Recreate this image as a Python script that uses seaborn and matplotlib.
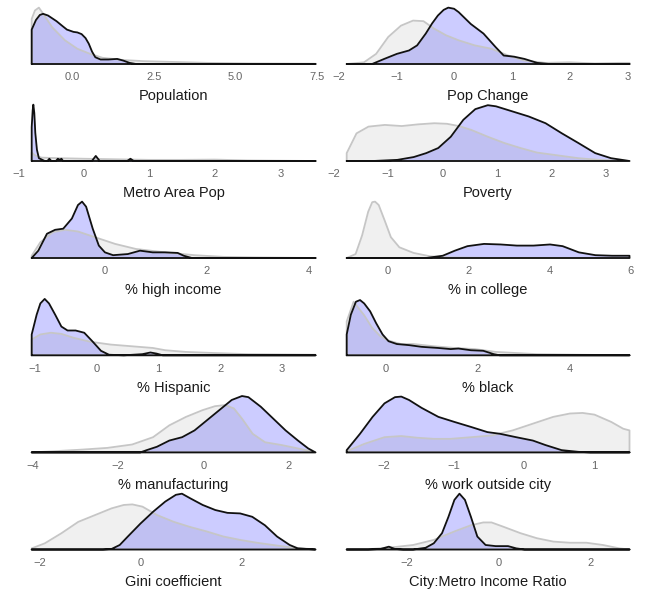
import matplotlib
matplotlib.use("Agg")
import matplotlib.pyplot as plt
import seaborn as sns

# density heights (share of panel height)
# grey = all cities, purple = selected cities

population_range = [-1.25, 7.45]
population_ticks = [0, 2.5, 5, 7.5]
population_labels = ["0.0", "2.5", "5.0", "7.5"]
population_grey_x = [-1.25, -1.15, -1.03, -0.85, -0.62, -0.40, -0.23, 0.15, 0.54, 0.92, 1.56, 2.2, 2.85, 4.13, 5.41, 7.45]
population_grey_y = [0.80, 0.95, 1.0, 0.85, 0.65, 0.52, 0.42, 0.27, 0.18, 0.11, 0.07, 0.05, 0.04, 0.02, 0.01, 0.005]
population_sel_x = [-1.25, -1.12, -1.0, -0.90, -0.75, -0.49, -0.30, -0.17, 0.03, 0.15, 0.28, 0.40, 0.50, 0.60, 0.70,
                    0.86, 1.10, 1.37, 1.56, 1.75, 1.95, 7.45]
population_sel_y = [0.61, 0.78, 0.87, 0.89, 0.86, 0.76, 0.67, 0.61, 0.57, 0.56, 0.53, 0.46, 0.36, 0.22, 0.12,
                    0.08, 0.08, 0.09, 0.06, 0.02, 0.0, 0.0]

popchange_range = [-1.86, 3.04]
popchange_ticks = [-2, -1, 0, 1, 2, 3]
popchange_grey_x = [-1.86, -1.56, -1.35, -1.14, -0.92, -0.71, -0.53, -0.35, -0.14, 0.08, 0.36, 0.65, 0.94, 1.22,
                    1.58, 2.0, 2.44, 2.86, 3.04]
popchange_grey_y = [0, 0.03, 0.18, 0.48, 0.68, 0.77, 0.76, 0.63, 0.51, 0.42, 0.33, 0.27, 0.15, 0.06,
                    0.02, 0.03, 0.01, 0.02, 0.02]
popchange_sel_x = [-1.86, -1.42, -1.21, -0.99, -0.78, -0.64, -0.49, -0.38, -0.28, -0.18, -0.10, 0.0, 0.08, 0.29,
                   0.51, 0.72, 0.86, 1.04, 1.22, 1.44, 1.65, 3.04]
popchange_sel_y = [0, 0.0, 0.09, 0.18, 0.24, 0.33, 0.54, 0.72, 0.86, 0.96, 1.0, 0.98, 0.92, 0.71,
                   0.54, 0.30, 0.15, 0.13, 0.09, 0.02, 0.0, 0.0]

metro_range = [-0.80, 3.54]
metro_ticks = [-1, 0, 1, 2, 3]
metro_grey_x = [-0.80, -0.75, -0.65, -0.40, 0.0, 0.5, 1.0, 1.5, 2.0, 2.5, 3.54]
metro_grey_y = [0.15, 0.10, 0.06, 0.05, 0.04, 0.03, 0.02, 0.02, 0.025, 0.01, 0.0]
metro_sel_x = [-0.80, -0.785, -0.775, -0.76, -0.745, -0.72, -0.69, -0.60, -0.56, -0.53, -0.50, -0.43, -0.40,
               -0.37, -0.345, -0.32, -0.28, 0.12, 0.18, 0.24, 0.66, 0.71, 0.76, 3.54]
metro_sel_y = [0.6, 0.9, 1.0, 0.85, 0.5, 0.2, 0.05, 0.0, 0.0, 0.04, 0.0, 0.0, 0.04,
               0.02, 0.04, 0.0, 0.0, 0.0, 0.09, 0.0, 0.0, 0.04, 0.0, 0.0]

poverty_range = [-1.76, 3.43]
poverty_ticks = [-2, -1, 0, 1, 2, 3]
poverty_grey_x = [-1.76, -1.58, -1.36, -1.06, -0.75, -0.45, -0.15, 0.08, 0.30, 0.53, 0.83, 1.13, 1.43, 1.73,
                  2.11, 2.49, 2.87, 3.43]
poverty_grey_y = [0.14, 0.49, 0.61, 0.64, 0.62, 0.65, 0.67, 0.66, 0.62, 0.55, 0.43, 0.32, 0.23, 0.15,
                  0.10, 0.05, 0.02, 0.0]
poverty_sel_x = [-1.76, -1.28, -0.83, -0.53, -0.30, -0.08, 0.15, 0.38, 0.60, 0.83, 0.98, 1.28, 1.58, 1.89,
                 2.19, 2.49, 2.80, 3.09, 3.43]
poverty_sel_y = [0, 0.0, 0.02, 0.07, 0.14, 0.23, 0.43, 0.73, 0.92, 0.99, 0.97, 0.88, 0.79, 0.67,
                 0.49, 0.32, 0.14, 0.05, 0.0]

highinc_range = [-1.44, 4.14]
highinc_ticks = [0, 2, 4]
highinc_grey_x = [-1.44, -1.27, -1.02, -0.78, -0.53, -0.20, 0.20, 0.61, 1.18, 1.76, 2.33, 2.98, 4.14]
highinc_grey_y = [0.04, 0.28, 0.46, 0.50, 0.47, 0.37, 0.25, 0.16, 0.10, 0.05, 0.02, 0.01, 0.0]
highinc_sel_x = [-1.44, -1.31, -1.14, -0.98, -0.82, -0.65, -0.53, -0.45, -0.37, -0.24, -0.12, 0.0, 0.16, 0.45,
                 0.69, 0.94, 1.18, 1.43, 1.55, 1.71, 4.14]
highinc_sel_y = [0, 0.13, 0.43, 0.50, 0.52, 0.70, 0.94, 1.0, 0.91, 0.52, 0.22, 0.10, 0.05, 0.07,
                 0.13, 0.10, 0.10, 0.09, 0.04, 0.0, 0.0]

college_range = [-1.01, 5.97]
college_ticks = [0, 2, 4, 6]
college_grey_x = [-1.01, -0.79, -0.63, -0.48, -0.38, -0.31, -0.22, -0.07, 0.08, 0.29, 0.64, 1.05, 1.46, 2.68, 5.97]
college_grey_y = [0, 0.07, 0.40, 0.82, 0.99, 1.0, 0.94, 0.66, 0.37, 0.19, 0.09, 0.03, 0.01, 0.0, 0.0]
college_sel_x = [-1.01, 0.95, 1.36, 1.66, 1.97, 2.38, 2.79, 3.19, 3.60, 4.01, 4.32, 4.72, 5.13, 5.54, 5.97]
college_sel_y = [0, 0, 0.04, 0.13, 0.21, 0.25, 0.24, 0.22, 0.22, 0.24, 0.21, 0.10, 0.05, 0.04, 0.04]

hispanic_range = [-1.05, 3.54]
hispanic_ticks = [-1, 0, 1, 2, 3]
hispanic_grey_x = [-1.05, -0.91, -0.74, -0.57, -0.37, -0.10, 0.23, 0.57, 0.91, 1.11, 1.44, 1.91, 2.45, 3.54]
hispanic_grey_y = [0.28, 0.37, 0.40, 0.38, 0.31, 0.24, 0.19, 0.16, 0.13, 0.09, 0.06, 0.04, 0.02, 0.01]
hispanic_sel_x = [-1.05, -0.97, -0.91, -0.84, -0.77, -0.67, -0.57, -0.47, -0.34, -0.20, -0.07, 0.07, 0.20, 0.44,
                  0.74, 0.87, 0.97, 1.07, 3.54]
hispanic_sel_y = [0.37, 0.72, 0.92, 1.0, 0.92, 0.72, 0.51, 0.44, 0.44, 0.40, 0.25, 0.08, 0.01, 0.0,
                  0.02, 0.05, 0.03, 0.0, 0.0]

black_range = [-0.85, 5.30]
black_ticks = [0, 2, 4]
black_grey_x = [-0.85, -0.70, -0.47, -0.30, -0.12, 0.06, 0.33, 0.60, 1.05, 1.50, 1.94, 2.39, 2.84, 3.29, 4.18, 5.30]
black_grey_y = [0.6, 0.95, 0.71, 0.49, 0.34, 0.26, 0.20, 0.20, 0.16, 0.13, 0.11, 0.06, 0.04, 0.02, 0.01, 0.0]
black_sel_x = [-0.85, -0.76, -0.65, -0.56, -0.47, -0.34, -0.21, -0.07, 0.06, 0.24, 0.51, 0.78, 1.14, 1.41,
               1.58, 1.85, 2.12, 2.35, 2.48, 5.30]
black_sel_y = [0.37, 0.72, 0.95, 0.98, 0.92, 0.78, 0.57, 0.37, 0.25, 0.20, 0.18, 0.15, 0.13, 0.11,
               0.12, 0.09, 0.08, 0.02, 0.0, 0.0]

manuf_range = [-4.02, 2.62]
manuf_ticks = [-4, -2, 0, 2]
manuf_grey_x = [-4.02, -3.51, -2.83, -2.25, -1.67, -1.18, -0.80, -0.41, -0.02, 0.27, 0.51, 0.71, 0.90, 1.15,
                1.44, 1.83, 2.21, 2.62]
manuf_grey_y = [0, 0.02, 0.05, 0.08, 0.14, 0.27, 0.48, 0.63, 0.75, 0.82, 0.84, 0.78, 0.60, 0.33,
                0.18, 0.13, 0.07, 0.0]
manuf_sel_x = [-4.02, -1.48, -1.33, -1.09, -0.80, -0.50, -0.21, 0.08, 0.37, 0.66, 0.90, 1.05, 1.34, 1.63,
               1.92, 2.21, 2.45, 2.62]
manuf_sel_y = [0, 0, 0.04, 0.10, 0.21, 0.27, 0.39, 0.57, 0.75, 0.93, 1.0, 0.98, 0.81, 0.60,
               0.39, 0.21, 0.07, 0.0]

outside_range = [-2.53, 1.51]
outside_ticks = [-2, -1, 0, 1]
outside_grey_x = [-2.53, -2.28, -1.99, -1.75, -1.52, -1.28, -1.05, -0.75, -0.46, -0.16, 0.13, 0.42, 0.66, 0.84,
                  1.01, 1.25, 1.42, 1.51]
outside_grey_y = [0.02, 0.15, 0.27, 0.29, 0.26, 0.24, 0.24, 0.27, 0.30, 0.39, 0.51, 0.63, 0.69, 0.70,
                  0.67, 0.54, 0.42, 0.39]
outside_sel_x = [-2.53, -2.34, -2.16, -1.99, -1.84, -1.75, -1.64, -1.46, -1.22, -0.99, -0.75, -0.52, -0.34, -0.11,
                 0.13, 0.31, 0.54, 0.78, 0.95, 1.51]
outside_sel_y = [0.04, 0.33, 0.63, 0.87, 0.98, 0.99, 0.93, 0.79, 0.63, 0.54, 0.45, 0.36, 0.33, 0.27,
                 0.21, 0.13, 0.04, 0.01, 0.0, 0.0]

gini_range = [-2.15, 3.46]
gini_ticks = [-2, 0, 2]
gini_grey_x = [-2.15, -1.89, -1.56, -1.23, -0.90, -0.57, -0.33, -0.16, 0.04, 0.33, 0.66, 0.98, 1.31, 1.64,
               1.97, 2.30, 2.62, 2.95, 3.46]
gini_grey_y = [0.02, 0.11, 0.29, 0.49, 0.61, 0.73, 0.79, 0.80, 0.76, 0.61, 0.49, 0.40, 0.32, 0.23,
               0.17, 0.12, 0.08, 0.04, 0.0]
gini_sel_x = [-2.15, -0.74, -0.57, -0.41, -0.25, 0.0, 0.25, 0.49, 0.70, 0.82, 0.98, 1.23, 1.48, 1.72,
              1.97, 2.21, 2.46, 2.70, 2.95, 3.11, 3.46]
gini_sel_y = [0, 0, 0.01, 0.08, 0.23, 0.46, 0.67, 0.85, 0.97, 0.99, 0.91, 0.79, 0.70, 0.65,
              0.64, 0.58, 0.43, 0.23, 0.08, 0.02, 0.0]

ratio_range = [-3.32, 2.85]
ratio_ticks = [-2, 0, 2]
ratio_grey_x = [-3.32, -2.76, -2.31, -1.87, -1.42, -0.97, -0.61, -0.34, -0.16, 0.11, 0.47, 0.83, 1.19, 1.55,
                1.91, 2.27, 2.63, 2.85]
ratio_grey_y = [0, 0.01, 0.04, 0.08, 0.17, 0.32, 0.43, 0.48, 0.48, 0.40, 0.29, 0.20, 0.14, 0.12,
                0.12, 0.08, 0.02, 0.0]
ratio_sel_x = [-3.32, -2.85, -2.58, -2.40, -2.27, -2.09, -1.87, -1.60, -1.42, -1.24, -1.10, -0.97, -0.86, -0.74,
               -0.61, -0.47, -0.29, -0.07, 0.20, 0.38, 0.56, 2.85]
ratio_sel_y = [0, 0, 0.01, 0.05, 0.01, 0.0, 0.0, 0.03, 0.11, 0.29, 0.58, 0.88, 0.99, 0.88,
               0.58, 0.23, 0.08, 0.06, 0.06, 0.02, 0.0, 0.0]


def fmt_ticks(ticks):
    return [f"{t:g}".replace("-", "\u2212") for t in ticks]


panels = [
    ("Population", population_range, population_ticks, population_labels,
     population_grey_x, population_grey_y, population_sel_x, population_sel_y),
    ("Pop Change", popchange_range, popchange_ticks, fmt_ticks(popchange_ticks),
     popchange_grey_x, popchange_grey_y, popchange_sel_x, popchange_sel_y),
    ("Metro Area Pop", metro_range, metro_ticks, fmt_ticks(metro_ticks),
     metro_grey_x, metro_grey_y, metro_sel_x, metro_sel_y),
    ("Poverty", poverty_range, poverty_ticks, fmt_ticks(poverty_ticks),
     poverty_grey_x, poverty_grey_y, poverty_sel_x, poverty_sel_y),
    ("% high income", highinc_range, highinc_ticks, fmt_ticks(highinc_ticks),
     highinc_grey_x, highinc_grey_y, highinc_sel_x, highinc_sel_y),
    ("% in college", college_range, college_ticks, fmt_ticks(college_ticks),
     college_grey_x, college_grey_y, college_sel_x, college_sel_y),
    ("% Hispanic", hispanic_range, hispanic_ticks, fmt_ticks(hispanic_ticks),
     hispanic_grey_x, hispanic_grey_y, hispanic_sel_x, hispanic_sel_y),
    ("% black", black_range, black_ticks, fmt_ticks(black_ticks),
     black_grey_x, black_grey_y, black_sel_x, black_sel_y),
    ("% manufacturing", manuf_range, manuf_ticks, fmt_ticks(manuf_ticks),
     manuf_grey_x, manuf_grey_y, manuf_sel_x, manuf_sel_y),
    ("% work outside city", outside_range, outside_ticks, fmt_ticks(outside_ticks),
     outside_grey_x, outside_grey_y, outside_sel_x, outside_sel_y),
    ("Gini coefficient", gini_range, gini_ticks, fmt_ticks(gini_ticks),
     gini_grey_x, gini_grey_y, gini_sel_x, gini_sel_y),
    ("City:Metro Income Ratio", ratio_range, ratio_ticks, fmt_ticks(ratio_ticks),
     ratio_grey_x, ratio_grey_y, ratio_sel_x, ratio_sel_y),
]


def draw_density(ax, xs, ys, fill, alpha, line, lw):
    ax.fill_between(xs, ys, 0, color=fill, alpha=alpha, linewidth=0)
    # closed outline like a density polygon (runs back along the baseline)
    ox = [xs[0]] + list(xs) + [xs[-1], xs[0]]
    oy = [0] + list(ys) + [0, 0]
    sns.lineplot(x=ox, y=oy, sort=False, estimator=None, color=line, linewidth=lw, ax=ax)


sns.set_theme(style="white")
plt.rcParams["font.family"] = ["Liberation Sans", "DejaVu Sans"]
plt.rcParams["lines.solid_joinstyle"] = "round"

W, H = 649, 593
fig = plt.figure(figsize=(W / 100, H / 100), dpi=100)

# pixel layout: where each column's data range sits, and each row's baseline
col_span = [(31.7, 315.5), (346.7, 629.5)]
row_base = [64, 161, 258, 355.3, 452.4, 549.5]
panel_h = 57.5

for i, (name, rng, ticks, labels, gx, gy, sx, sy) in enumerate(panels):
    row, col = divmod(i, 2)
    x0, x1 = col_span[col]
    span = x1 - x0
    ax = fig.add_axes([(x0 - 0.05 * span) / W, 1 - row_base[row] / H, 1.1 * span / W, panel_h / H])

    draw_density(ax, gx, gy, "#bebebe", 0.22, "#c6c6c6", 1.3)
    draw_density(ax, sx, sy, "#0000ff", 0.2, "#111111", 1.3)
    for art in ax.lines + ax.collections:
        art.set_clip_on(False)

    pad = 0.05 * (rng[1] - rng[0])
    ax.set_xlim(rng[0] - pad, rng[1] + pad)
    ax.set_ylim(0, 1.02)
    ax.set_xticks(ticks)
    ax.set_xticklabels(labels)
    ax.set_yticks([])
    ax.tick_params(axis="x", length=0, pad=6, labelsize=8, labelcolor="#666666")
    ax.set_xlabel(name, fontsize=10.5, color="#1a1a1a", labelpad=5)
    ax.set_ylabel("")
    for s in ax.spines.values():
        s.set_visible(False)
    ax.patch.set_alpha(0)

fig.savefig("out.png", dpi=100)
